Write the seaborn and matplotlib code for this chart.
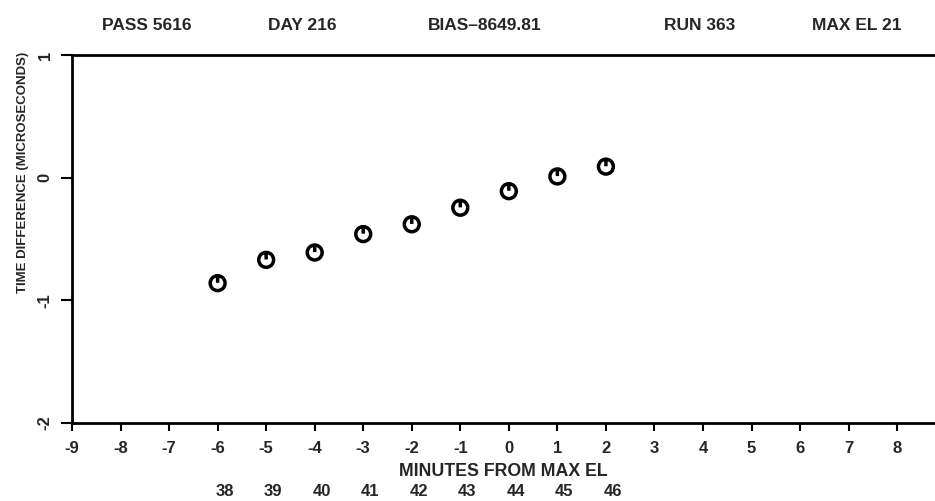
import matplotlib
matplotlib.use("Agg")
import matplotlib.pyplot as plt
import matplotlib.transforms as mtransforms
from matplotlib.path import Path
import seaborn as sns
import pandas as pd

# ---- data ----
minutes = [-6, -5, -4, -3, -2, -1, 0, 1, 2]
time_diff = [-0.86, -0.67, -0.61, -0.46, -0.38, -0.245, -0.11, 0.01, 0.09]
clock_minutes = ["38", "39", "40", "41", "42", "43", "44", "45", "46"]
x_ticks = list(range(-9, 9))
x_tick_labels = [str(v) for v in x_ticks]
y_ticks = [-2, -1, 0, 1]
y_tick_labels = ["-2", "-1", "0", "1"]
header_labels = ["PASS 5616", "DAY 216", "BIAS\u20138649.81", "RUN 363", "MAX EL 21"]
header_x_px = [147, 302, 485, 700, 857]

sns.set_style("white")
plt.rcParams["font.family"] = ["Liberation Sans", "DejaVu Sans"]
plt.rcParams["font.weight"] = "bold"

fig = plt.figure(figsize=(9.35, 5.01), dpi=100)
W, H = 935, 501
ax = fig.add_axes([72 / W, 1 - 423 / H, 1 - 72 / W, (423 - 55) / H])

# marker: circle with a short vertical stroke from the top
marker_path = Path.make_compound_path(
    Path.unit_circle(),
    Path([(0, 1.0), (0, 0.05)], [Path.MOVETO, Path.LINETO]),
)

df = pd.DataFrame({"minutes": minutes, "diff": time_diff})
sns.scatterplot(data=df, x="minutes", y="diff", ax=ax, marker=marker_path,
                s=115, facecolor="none", edgecolor="black", color="black",
                linewidth=2.5, zorder=3)

ax.set_xlim(-9, 8.78)
ax.set_ylim(-2, 1)
ax.set_xticks(x_ticks)
ax.set_xticklabels(x_tick_labels, fontsize=12, fontweight="bold")
ax.set_yticks(y_ticks)
ax.set_yticklabels(y_tick_labels, fontsize=12, fontweight="bold",
                   rotation=90, va="center")
ax.tick_params(axis="x", direction="out", length=6, width=1.5, pad=7,
               color="black", bottom=True)
ax.tick_params(axis="y", direction="out", length=8, width=1.5, pad=6,
               color="black", left=True)
ax.grid(False)

for side in ["left", "bottom", "top"]:
    ax.spines[side].set_visible(True)
    ax.spines[side].set_color("black")
    ax.spines[side].set_linewidth(2.0)
ax.spines["right"].set_visible(False)

ax.set_xlabel("MINUTES FROM MAX EL", fontsize=12.8, fontweight="bold",
              labelpad=5)
ax.set_ylabel("")

# second row of x labels (clock minutes)
trans = mtransforms.blended_transform_factory(ax.transData, fig.transFigure)
offset = mtransforms.ScaledTranslation(7 / 100, 0, fig.dpi_scale_trans)
for xv, lab in zip(minutes, clock_minutes):
    ax.text(xv, 1 - 492 / H, lab, transform=trans + offset, ha="center",
            va="center", fontsize=12, fontweight="bold")

# y label
fig.text(23 / W, 1 - 172 / H, "TIME DIFFERENCE (MICROSECONDS)", rotation=90,
         ha="center", va="center", fontsize=9.5, fontweight="bold")

# header
for xp, lab in zip(header_x_px, header_labels):
    fig.text(xp / W, 1 - 26 / H, lab, ha="center", va="center",
             fontsize=12.5, fontweight="bold")

fig.savefig("out.png", dpi=100)
